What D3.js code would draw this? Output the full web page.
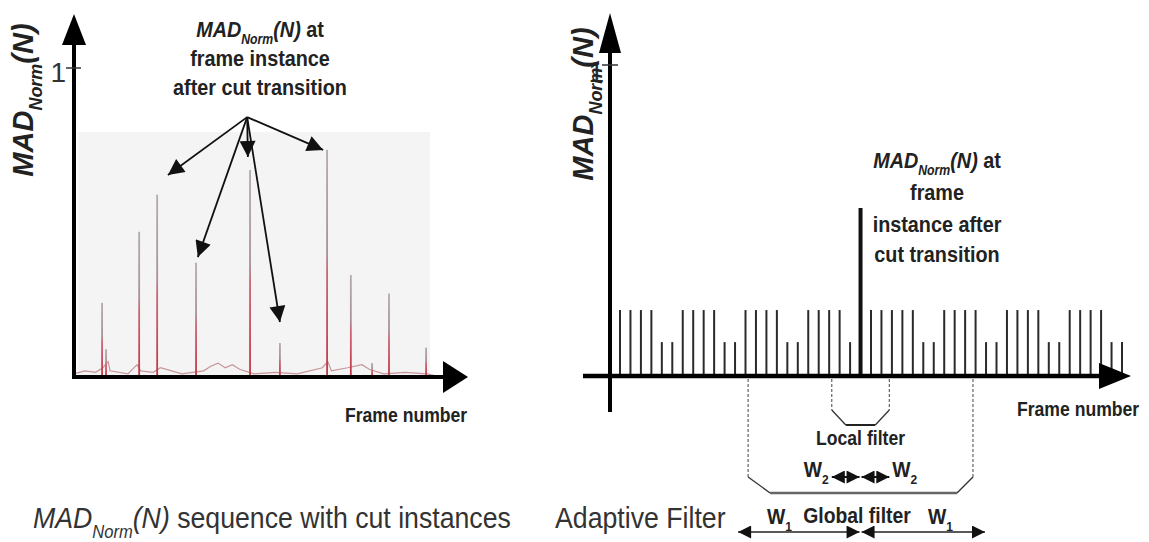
<!DOCTYPE html>
<html>
<head>
<meta charset="utf-8">
<script src="https://cdn.jsdelivr.net/npm/d3@7"></script>
<style>
body { margin: 0; background: #fff; }
svg { display: block; }
text { white-space: pre; }
</style>
</head>
<body>
<svg id="chart"></svg>
<script>
const width = 1149, height = 542;

// left panel: MAD_Norm(N) sequence with cut instances (frame, value)
const cutFrames = [78, 89, 181, 231, 339, 489, 572, 703, 769, 828, 875, 978];
const cutValues = [0.24, 0.09, 0.47, 0.59, 0.37, 0.67, 0.11, 0.735, 0.33, 0.045, 0.27, 0.095];
const noiseFrames = [0, 30, 60, 80, 95, 100, 150, 175, 185, 220, 240, 300, 360, 380, 400, 420, 440, 460, 500, 560, 620, 690, 705, 715, 760, 800, 820, 860, 920, 980, 1000];
const noiseValues = [0.01, 0.02, 0.015, 0.03, 0.05, 0.02, 0.01, 0.04, 0.02, 0.015, 0.03, 0.01, 0.02, 0.035, 0.045, 0.03, 0.04, 0.025, 0.01, 0.015, 0.01, 0.03, 0.05, 0.02, 0.03, 0.04, 0.025, 0.01, 0.015, 0.01, 0.005];
// annotation arrows point from one origin to these (frame, value) spots
const arrowOrigin = [481, 0.841];
const arrowTargets = [[261, 0.654], [344, 0.388], [483, 0.712], [572, 0.178], [692, 0.735]];

// right panel: adaptive filter, one value per frame 0..48
const frameValues = [
  0.212, 0.212, 0.212, 0.212, 0.109, 0.109, 0.212, 0.212, 0.212, 0.212,
  0.109, 0.109, 0.212, 0.212, 0.212, 0.212, 0.109, 0.109, 0.212, 0.212,
  0.212, 0.212, 0.109, 0.54, 0.212, 0.212, 0.212, 0.212, 0.212, 0.109,
  0.109, 0.212, 0.212, 0.212, 0.212, 0.109, 0.109, 0.212, 0.212, 0.212,
  0.212, 0.109, 0.109, 0.212, 0.212, 0.212, 0.212, 0.109, 0.109
];
const cutFrame = 23;
const globalHalf = 10.75;   // W1
const localHalf = 2.75;     // W2

const svg = d3.select("#chart").attr("width", width).attr("height", height);
const font = "'Liberation Sans', Arial, Helvetica, sans-serif";

const defs = svg.append("defs");
const grad = defs.append("linearGradient").attr("id", "spikeGrad")
  .attr("x1", 0).attr("y1", 1).attr("x2", 0).attr("y2", 0);
grad.append("stop").attr("offset", "0%").attr("stop-color", "#c43444");
grad.append("stop").attr("offset", "45%").attr("stop-color", "#cc6474");
grad.append("stop").attr("offset", "55%").attr("stop-color", "#a8909a");
grad.append("stop").attr("offset", "100%").attr("stop-color", "#b4aab0");

function marker(id, w, h, color) {
  defs.append("marker").attr("id", id)
    .attr("viewBox", "0 0 10 10").attr("refX", 10).attr("refY", 5)
    .attr("markerUnits", "userSpaceOnUse")
    .attr("markerWidth", w).attr("markerHeight", h)
    .attr("orient", "auto-start-reverse")
    .append("path").attr("d", "M0,0L10,5L0,10Z").attr("fill", color);
}
marker("annArrow", 20, 16, "#111");
marker("dimArrow", 16, 13, "#111");
marker("smallArrow", 15, 13, "#111");

function label(parent, x, y, parts, o) {
  const t = parent.append("text")
    .attr("transform", `translate(${x},${y})${o.rotate ? " rotate(-90)" : ""} scale(${o.sx || 1},1)`)
    .attr("text-anchor", o.anchor || "middle")
    .attr("font-family", font)
    .attr("font-size", o.size)
    .attr("font-weight", o.bold ? "bold" : "normal")
    .attr("fill", o.color || "#222");
  let shifted = 0;
  parts.forEach(p => {
    const part = typeof p === "string" ? {t: p} : p;
    const dy = part.sub ? o.size * 0.32 : 0;
    t.append("tspan")
      .attr("dy", dy - shifted)
      .attr("font-size", part.sub ? o.size * 0.62 : null)
      .attr("font-style", part.it ? "italic" : null)
      .text(part.t);
    shifted = dy;
  });
  return t;
}
const madParts = [{t: "MAD", it: true}, {t: "Norm", it: true, sub: true}, {t: "(N)", it: true}];

// ---------- left panel ----------
const xL = d3.scaleLinear().domain([0, 1000]).range([74, 434]);
const yL = d3.scaleLinear().domain([0, 1]).range([377, 68]);
const left = svg.append("g");

left.append("rect").attr("x", xL(10)).attr("y", 132)
  .attr("width", 430 - xL(10)).attr("height", yL(0) - 132)
  .attr("fill", "#f4f4f4");

left.append("path")
  .datum(noiseFrames.map((f, i) => [f, noiseValues[i]]))
  .attr("d", d3.line().x(d => xL(d[0])).y(d => yL(d[1])))
  .attr("fill", "none").attr("stroke", "#a04850").attr("stroke-width", 1.2).attr("opacity", 0.55);

left.selectAll(".spike").data(cutFrames).enter().append("rect")
  .attr("class", "spike")
  .attr("x", d => xL(d) - 0.9)
  .attr("width", 1.8)
  .attr("y", (d, i) => yL(cutValues[i]))
  .attr("height", (d, i) => yL(0) - yL(cutValues[i]))
  .attr("fill", "url(#spikeGrad)");

// axes
left.append("line").attr("x1", xL(0)).attr("x2", 445).attr("y1", yL(0)).attr("y2", yL(0))
  .attr("stroke", "#000").attr("stroke-width", 4);
left.append("path").attr("d", `M443,${yL(0) - 16}L468,${yL(0)}L443,${yL(0) + 16}Z`).attr("fill", "#000");
left.append("line").attr("x1", xL(0)).attr("x2", xL(0)).attr("y1", yL(0) + 2).attr("y2", 42)
  .attr("stroke", "#000").attr("stroke-width", 4);
left.append("path").attr("d", `M${xL(0) - 12},45L${xL(0)},14L${xL(0) + 12},45Z`).attr("fill", "#000");
left.append("line").attr("x1", xL(0) - 8).attr("x2", xL(0) + 7).attr("y1", yL(1)).attr("y2", yL(1))
  .attr("stroke", "#333").attr("stroke-width", 1.5);
label(left, 66, 82, ["1"], {size: 28, anchor: "end", color: "#333"});

label(left, 33, 100, madParts, {size: 29, bold: true, rotate: true, color: "#222"});
label(left, 345, 422, ["Frame number"], {size: 20, bold: true, anchor: "start", sx: 0.88});

// annotation
label(left, 260, 37, [...madParts, " at"], {size: 22.5, bold: true, sx: 0.88});
label(left, 260, 66, ["frame instance"], {size: 22.5, bold: true, sx: 0.88});
label(left, 260, 95, ["after cut transition"], {size: 22.5, bold: true, sx: 0.88});
left.selectAll(".ann").data(arrowTargets).enter().append("line")
  .attr("class", "ann")
  .attr("x1", xL(arrowOrigin[0])).attr("y1", yL(arrowOrigin[1]))
  .attr("x2", d => xL(d[0])).attr("y2", d => yL(d[1]))
  .attr("stroke", "#111").attr("stroke-width", 1.8)
  .attr("marker-end", "url(#annArrow)");

label(left, 33, 528, [...madParts, " sequence with cut instances"], {size: 30, anchor: "start", sx: 0.89, color: "#333"});

// ---------- right panel ----------
const xR = d3.scaleLinear().domain([0, 48]).range([620, 1122]);
const yR = d3.scaleLinear().domain([0, 1]).range([376, 65]);
const right = svg.append("g");

right.selectAll(".frame").data(frameValues).enter().append("line")
  .attr("class", "frame")
  .attr("x1", (d, i) => xR(i)).attr("x2", (d, i) => xR(i))
  .attr("y1", yR(0)).attr("y2", d => yR(d))
  .attr("stroke", (d, i) => i === cutFrame ? "#111" : "#2a2a2a")
  .attr("stroke-width", (d, i) => i === cutFrame ? 4 : 2);

right.append("line").attr("x1", 583).attr("x2", 1102).attr("y1", yR(0)).attr("y2", yR(0))
  .attr("stroke", "#000").attr("stroke-width", 4.5);
right.append("path").attr("d", `M1099,${yR(0) - 13}L1131,${yR(0)}L1099,${yR(0) + 13}Z`).attr("fill", "#000");
right.append("line").attr("x1", 610).attr("x2", 610).attr("y1", 412).attr("y2", 50)
  .attr("stroke", "#000").attr("stroke-width", 4);
right.append("path").attr("d", "M599,53L610,13L621,53Z").attr("fill", "#000");
right.append("line").attr("x1", 602).attr("x2", 618).attr("y1", yR(1)).attr("y2", yR(1))
  .attr("stroke", "#333").attr("stroke-width", 1.5);
label(right, 604, 82, ["1"], {size: 28, anchor: "end", color: "#333"});

label(right, 593, 104, madParts, {size: 29, bold: true, rotate: true, color: "#222"});
label(right, 1017, 416, ["Frame number"], {size: 20, bold: true, anchor: "start", sx: 0.88});

label(right, 937, 168, [...madParts, " at"], {size: 22.5, bold: true, sx: 0.88});
label(right, 937, 200, ["frame"], {size: 22.5, bold: true, sx: 0.88});
label(right, 937, 232, ["instance after"], {size: 22.5, bold: true, sx: 0.88});
label(right, 937, 262, ["cut transition"], {size: 22.5, bold: true, sx: 0.88});

// filter windows
const gL = xR(cutFrame - globalHalf), gR = xR(cutFrame + globalHalf);
const lL = xR(cutFrame - localHalf), lR = xR(cutFrame + localHalf);
const dash = {stroke: "#555", "stroke-width": 1.1, "stroke-dasharray": "3,2"};
function seg(x1, y1, x2, y2, style) {
  const l = right.append("line").attr("x1", x1).attr("y1", y1).attr("x2", x2).attr("y2", y2);
  Object.entries(style).forEach(([k, v]) => l.attr(k, v));
  return l;
}
const solid = {stroke: "#333", "stroke-width": 1.3};
// global filter
seg(gL, 379, gL, 477, dash);
seg(gR, 379, gR, 477, dash);
seg(gL, 477, gL + 22, 493, solid);
seg(gR, 477, gR - 16, 493, solid);
seg(gL + 22, 493, gR - 16, 493, {stroke: "#666", "stroke-width": 2.5});
// local filter
seg(lL, 379, lL, 410, dash);
seg(lR, 379, lR, 410, dash);
seg(lL, 410, lL + 14, 425, solid);
seg(lR, 410, lR - 14, 425, solid);
seg(lL + 14, 425, lR - 14, 425, {stroke: "#222", "stroke-width": 2});

label(right, xR(cutFrame), 445, ["Local filter"], {size: 20, bold: true, sx: 0.88});
// W2 arrows
const cx = xR(cutFrame);
seg(lL, 477, cx - 1, 477, {stroke: "#111", "stroke-width": 2})
  .attr("marker-start", "url(#smallArrow)").attr("marker-end", "url(#smallArrow)");
seg(cx + 1, 477, lR, 477, {stroke: "#111", "stroke-width": 2})
  .attr("marker-start", "url(#smallArrow)").attr("marker-end", "url(#smallArrow)");
label(right, lL - 28, 477, [{t: "W"}, {t: "2", sub: true}], {size: 22, bold: true, anchor: "start", sx: 0.88});
label(right, lR + 3, 477, [{t: "W"}, {t: "2", sub: true}], {size: 22, bold: true, anchor: "start", sx: 0.88});

// W1 arrows
seg(gL - 10, 532, cx - 1, 532, {stroke: "#222", "stroke-width": 1.5})
  .attr("marker-start", "url(#dimArrow)").attr("marker-end", "url(#dimArrow)");
seg(cx + 1, 532, gR + 12, 532, {stroke: "#222", "stroke-width": 1.5})
  .attr("marker-start", "url(#dimArrow)").attr("marker-end", "url(#dimArrow)");
label(right, 767, 524, [{t: "W"}, {t: "1", sub: true}], {size: 22, bold: true, anchor: "start", sx: 0.88});
label(right, 857, 523, ["Global filter"], {size: 22, bold: true, sx: 0.88});
label(right, 928, 524, [{t: "W"}, {t: "1", sub: true}], {size: 22, bold: true, anchor: "start", sx: 0.88});

label(right, 555, 528, ["Adaptive Filter"], {size: 30, anchor: "start", sx: 0.89, color: "#333"});
</script>
</body>
</html>
